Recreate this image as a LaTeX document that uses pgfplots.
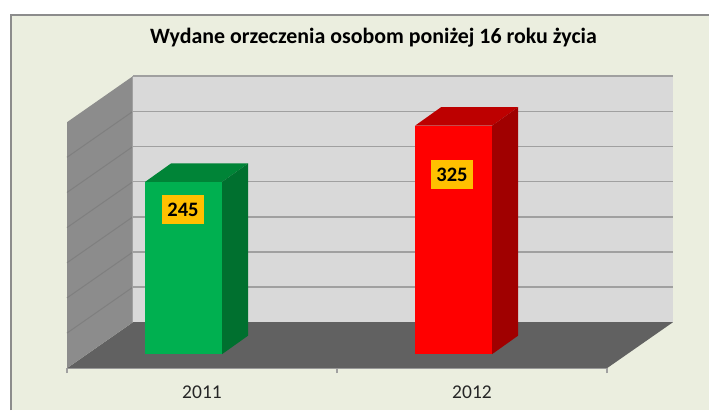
\documentclass[border=0pt]{standalone}
\usepackage{pgfplots}
\pgfplotsset{compat=1.18}
\usepackage{fontspec}
\setmainfont{Carlito}
\definecolor{panel}{HTML}{EBEEDF}
\definecolor{frameg}{HTML}{8C8C8C}
\definecolor{wallb}{HTML}{D9D9D9}
\definecolor{walls}{HTML}{8C8C8C}
\definecolor{floorc}{HTML}{616161}
\definecolor{gridb}{HTML}{A0A0A0}
\definecolor{grids}{HTML}{7F7F7F}
\definecolor{gfront}{HTML}{00B050}
\definecolor{gtop}{HTML}{008437}
\definecolor{gside}{HTML}{00702F}
\definecolor{rfront}{HTML}{FF0000}
\definecolor{rtop}{HTML}{BD0000}
\definecolor{rside}{HTML}{A00000}
\definecolor{lab}{HTML}{FFC000}
\begin{document}
\begin{tikzpicture}[x=1pt,y=1pt]
\useasboundingbox (-67,-41.8) rectangle (642,368.2);
\fill[white] (-67,-41.8) rectangle (642,368.2);
\fill[panel] (-56,-41.8) rectangle (642,353);
\draw[frameg,line width=1.9pt] (-56,-41.8) -- (-56,353) -- (642,353);
\begin{axis}[
  at={(0,0)},
  anchor=south west,
  scale only axis,width=540pt,height=246pt,
  xmin=-0.5,xmax=1.5,ymin=-19.92,ymax=330,
  clip=false,
  axis x line=bottom,axis y line=none,
  x axis line style={-,draw=gridb,line width=1.6pt},
  xtick={-0.5,0.5,1.5},
  x tick label as interval,
  xticklabels={2011,2012},
  ytick=\empty,
  tick align=outside,
  major tick length=5pt,
  x tick style={draw=gridb,line width=1.2pt},
  xticklabel style={font=\fontsize{19.5}{20}\selectfont,text=black!85,anchor=center,yshift=-19.5pt},
  ybar,
]
% floor
\addplot[ybar=false,sharp plot,fill=floorc,draw=none,forget plot] coordinates {(-0.5,-19.92) (1.5,-19.92) (1.7444,45.5) (-0.2556,45.5)} --cycle;
% side wall
\addplot[sharp plot,fill=walls,draw=none,forget plot] coordinates {(-0.5,-19.92) (-0.5,330) (-0.2556,395.5) (-0.2556,45.5)} --cycle;
% back wall
\addplot[sharp plot,fill=wallb,draw=none,forget plot] coordinates {(-0.2556,45.5) (-0.2556,395.5) (1.7444,395.5) (1.7444,45.5)} --cycle;
% side wall grid
\addplot[sharp plot,grids,line width=1pt,forget plot] coordinates {(-0.5,30.08) (-0.2556,95.5)};
\addplot[sharp plot,grids,line width=1pt,forget plot] coordinates {(-0.5,80.08) (-0.2556,145.5)};
\addplot[sharp plot,grids,line width=1pt,forget plot] coordinates {(-0.5,130.08) (-0.2556,195.5)};
\addplot[sharp plot,grids,line width=1pt,forget plot] coordinates {(-0.5,180.08) (-0.2556,245.5)};
\addplot[sharp plot,grids,line width=1pt,forget plot] coordinates {(-0.5,230.08) (-0.2556,295.5)};
\addplot[sharp plot,grids,line width=1pt,forget plot] coordinates {(-0.5,280.08) (-0.2556,345.5)};
% back wall grid
\addplot[sharp plot,gridb,line width=1.6pt,forget plot] coordinates {(-0.2556,95.5) (1.7444,95.5)};
\addplot[sharp plot,gridb,line width=1.6pt,forget plot] coordinates {(-0.2556,145.5) (1.7444,145.5)};
\addplot[sharp plot,gridb,line width=1.6pt,forget plot] coordinates {(-0.2556,195.5) (1.7444,195.5)};
\addplot[sharp plot,gridb,line width=1.6pt,forget plot] coordinates {(-0.2556,245.5) (1.7444,245.5)};
\addplot[sharp plot,gridb,line width=1.6pt,forget plot] coordinates {(-0.2556,295.5) (1.7444,295.5)};
\addplot[sharp plot,gridb,line width=1.6pt,forget plot] coordinates {(-0.2556,345.5) (1.7444,345.5)};
\addplot[sharp plot,gridb,line width=1.6pt,forget plot] coordinates {(-0.2556,395.5) (1.7444,395.5)};
\addplot[sharp plot,gridb,line width=1pt,forget plot] coordinates {(-0.2556,45.5) (-0.2556,395.5)};
% bar 2011
\addplot[sharp plot,fill=gtop,draw=none,forget plot] coordinates {(-0.2111,245) (0.0741,245) (0.1704,271.3) (-0.1148,271.3)} --cycle;
\addplot[sharp plot,fill=gside,draw=none,forget plot] coordinates {(0.0741,0) (0.0741,245) (0.1704,271.3) (0.1704,26.3)} --cycle;
\addplot[ybar,bar width=77pt,bar shift=-18.5pt,fill=gfront,draw=none] coordinates {(0,245)};
% bar 2012
\addplot[sharp plot,fill=rtop,draw=none,forget plot] coordinates {(0.7889,325) (1.0741,325) (1.1704,351.3) (0.8852,351.3)} --cycle;
\addplot[sharp plot,fill=rside,draw=none,forget plot] coordinates {(1.0741,0) (1.0741,325) (1.1704,351.3) (1.1704,26.3)} --cycle;
\addplot[ybar,bar width=77pt,bar shift=-18.5pt,fill=rfront,draw=none] coordinates {(1,325)};
% value labels
\node[fill=lab,inner sep=0pt,minimum width=42pt,minimum height=28.5pt,font=\fontsize{20.5}{20}\selectfont\bfseries,text=black] at (axis cs:-0.0704,205.6) {245};
\node[fill=lab,inner sep=0pt,minimum width=42pt,minimum height=28.5pt,font=\fontsize{20.5}{20}\selectfont\bfseries,text=black] at (axis cs:0.9259,255.5) {325};
% title
\node[font=\fontsize{21.9}{22}\selectfont\bfseries,text=black,anchor=center] at (axis cs:0.6352,450) {Wydane orzeczenia osobom poniżej 16 roku życia};
\end{axis}
\end{tikzpicture}
\end{document}
